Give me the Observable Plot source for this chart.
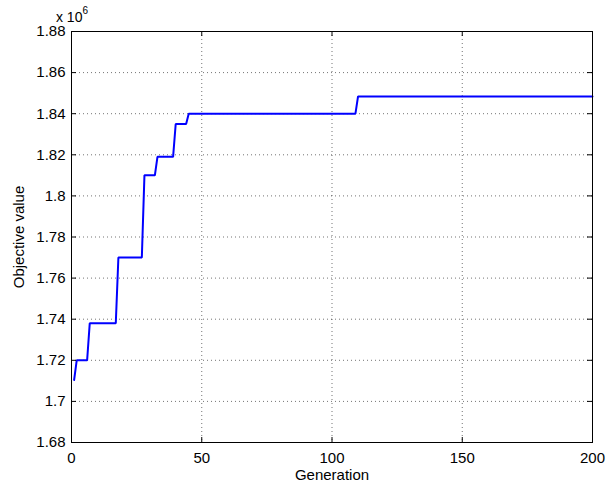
<!DOCTYPE html>
<html>
<head>
<meta charset="utf-8">
<script src="https://cdn.jsdelivr.net/npm/d3@7"></script>
<script src="https://cdn.jsdelivr.net/npm/@observablehq/plot@0.6"></script>
<style>
  html, body { margin: 0; padding: 0; background: #fff; }
  #chart { width: 606px; height: 486px; }
</style>
</head>
<body>
<div id="chart"></div>
<script>
// Best objective value per generation (change points of the step curve)
const generations = [1, 2, 6, 7, 17, 18, 27, 28, 32, 33, 39, 40, 44, 45, 109, 110, 200];
const objective = [1710400, 1720000, 1720000, 1738000, 1738000, 1770000, 1770000, 1810000,
                   1810000, 1819000, 1819000, 1835000, 1835000, 1840000, 1840000, 1848400, 1848400];

const xTicks = [0, 50, 100, 150, 200];
const xTickLabels = ["0", "50", "100", "150", "200"];
const yTicks = [1680000, 1700000, 1720000, 1740000, 1760000, 1780000, 1800000, 1820000, 1840000, 1860000, 1880000];
const yTickLabels = ["1.68", "1.7", "1.72", "1.74", "1.76", "1.78", "1.8", "1.82", "1.84", "1.86", "1.88"];

const xLabel = "Generation";
const yLabel = "Objective value";

const data = generations.map((g, i) => ({g, v: objective[i]}));

const W = 606, H = 486;
const mL = 71, mR = 14, mT = 31, mB = 44;
const xDomain = [0, 200], yDomain = [1680000, 1880000];
// inward tick length of 5px expressed in data units
const tx = 5 * (xDomain[1] - xDomain[0]) / (W - mL - mR);
const ty = 5 * (yDomain[1] - yDomain[0]) / (H - mT - mB);

const FONT = "'Liberation Sans', Arial, Helvetica, sans-serif";
const grid = {stroke: "#000", strokeOpacity: 0.55, strokeDasharray: "1,3", strokeWidth: 1};
const innerX = xTicks.slice(1, -1);
const innerY = yTicks.slice(1, -1);

const chart = Plot.plot({
  width: W, height: H,
  marginLeft: mL, marginRight: mR, marginTop: mT, marginBottom: mB,
  style: {fontFamily: FONT, fontSize: "15px", color: "#000", background: "#fff"},
  x: {domain: xDomain},
  y: {domain: yDomain},
  marks: [
    Plot.ruleX(innerX, {...grid}),
    Plot.ruleY(innerY, {...grid}),
    Plot.line(data, {x: "g", y: "v", stroke: "#0000ff", strokeWidth: 2, strokeLinejoin: "miter"}),
    // inward ticks
    Plot.ruleX(xTicks, {y1: yDomain[0], y2: yDomain[0] + ty, stroke: "#000"}),
    Plot.ruleX(xTicks, {y1: yDomain[1], y2: yDomain[1] - ty, stroke: "#000"}),
    Plot.ruleY(yTicks, {x1: xDomain[0], x2: xDomain[0] + tx, stroke: "#000"}),
    Plot.ruleY(yTicks, {x1: xDomain[1], x2: xDomain[1] - tx, stroke: "#000"}),
    Plot.frame({stroke: "#000", strokeWidth: 1}),
    Plot.axisX({ticks: xTicks, tickFormat: (d) => xTickLabels[xTicks.indexOf(d)], tickSize: 0, tickPadding: 10, label: null, fontSize: 15}),
    Plot.axisY({ticks: yTicks, tickFormat: (d) => yTickLabels[yTicks.indexOf(d)], tickSize: 0, tickPadding: 6, label: null, fontSize: 15}),
    Plot.text([xLabel], {frameAnchor: "bottom", lineAnchor: "top", textAnchor: "middle", dy: 27, text: d => d, fill: "#000", fontSize: 15}),
    Plot.text([yLabel], {frameAnchor: "left", lineAnchor: "top", textAnchor: "middle", dx: -58, rotate: -90, text: d => d, fill: "#000", fontSize: 15})
  ]
});

// "x 10^6" exponent label at top-left of axes
const svg = d3.select(chart);
const t = svg.append("text")
  .attr("x", mL + 1)
  .attr("y", mT - 9)
  .attr("fill", "#000")
  .style("font-family", FONT)
  .style("font-size", "14px");
t.append("tspan").text("x 10");
t.append("tspan").attr("dy", -8).style("font-size", "10px").text("6");

document.getElementById("chart").appendChild(chart);
</script>
</body>
</html>
